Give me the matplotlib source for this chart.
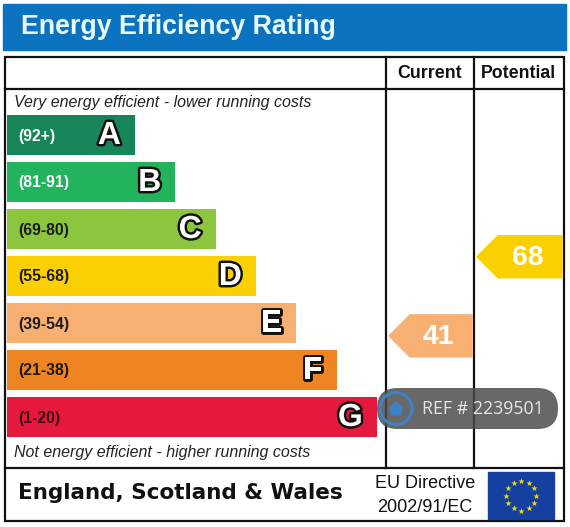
import numpy as np
import matplotlib
matplotlib.use('Agg')
import matplotlib.pyplot as plt
import matplotlib.patheffects as pe
from matplotlib.patches import Rectangle, Polygon, Circle, FancyBboxPatch

# ---- data ----
bands = ['A', 'B', 'C', 'D', 'E', 'F', 'G']
ranges = ['(92+)', '(81-91)', '(69-80)', '(55-68)', '(39-54)', '(21-38)', '(1-20)']
band_colors = ['#17855a', '#22b35c', '#8cc63f', '#fbd000', '#f7b071', '#ef8422', '#e5193d']
range_text_colors = ['white', 'white', '#1a1a1a', '#1a1a1a', '#1a1a1a', '#1a1a1a', '#3a0d14']
current = 41
potential = 68
ref_text = 'REF # 2239501'

fig = plt.figure(figsize=(5.7, 5.27), dpi=100)
ax = fig.add_axes([0, 0, 1, 1])
ax.set_xlim(0, 570)
ax.set_ylim(527, 0)
ax.axis('off')

sans = ['Liberation Sans', 'DejaVu Sans']

# title bar
ax.add_patch(Rectangle((3, 4), 563, 46, color='#0a72bf', zorder=1))
ax.text(21, 27, 'Energy Efficiency Rating', color='#e8fbff', fontsize=19.3,
        fontweight='bold', family=sans, va='center', ha='left')

# frame and grid lines
lk = dict(color='#111111', lw=1.6, zorder=3)
ax.add_patch(Rectangle((5, 57), 559, 464, fill=False, **lk))
ax.plot([5, 564], [89, 89], **lk)
ax.plot([5, 564], [468, 468], **lk)
ax.plot([386, 386], [57, 468], **lk)
ax.plot([474, 474], [57, 468], **lk)

ax.text(430, 73, 'Current', fontsize=12.8, fontweight='bold', family=sans,
        ha='center', va='center', color='#111111')
ax.text(518, 73, 'Potential', fontsize=12.8, fontweight='bold', family=sans,
        ha='center', va='center', color='#111111')

ax.text(14, 102, 'Very energy efficient - lower running costs', fontsize=11.5,
        style='italic', family=sans, ha='left', va='center', color='#222222')
ax.text(14, 452, 'Not energy efficient - higher running costs', fontsize=11.5,
        style='italic', family=sans, ha='left', va='center', color='#222222')

# rating bands
idx = np.arange(len(bands))
y_centers = 135 + 47 * idx
rights = 135 + 40.3 * idx
ax.barh(y_centers, rights - 7, left=7, height=40, color=band_colors, zorder=2)
outline = [pe.withStroke(linewidth=3.5, foreground='#111111')]
for i in idx:
    ax.text(18, y_centers[i] + 1, ranges[i], fontsize=11.3, fontweight='bold', family=sans,
            ha='left', va='center', color=range_text_colors[i], zorder=4)
    ax.text(rights[i] - 14, y_centers[i] + 1, bands[i], fontsize=23, fontweight='bold',
            family=sans, ha='right', va='center', color='white',
            path_effects=outline, zorder=4)


def band_of(v):
    lims = [92, 81, 69, 55, 39, 21, 1]
    for k, lo in enumerate(lims):
        if v >= lo:
            return k
    return len(lims) - 1


def arrow(x0, x1, yc, value):
    h = 42
    pts = [(x0, yc), (x0 + 21, yc - h / 2), (x1, yc - h / 2), (x1, yc + h / 2), (x0 + 21, yc + h / 2)]
    ax.add_patch(Polygon(pts, closed=True, color=band_colors[band_of(value)], zorder=4))
    ax.text((x0 + x1) / 2 + 8, yc + 1, str(value), fontsize=20.5, fontweight='bold',
            family=sans, ha='center', va='center', color='white', zorder=5)


# arrow vertical position follows the value
arrow(389, 472, 456 - 2.93 * current, current)
arrow(477, 562, 456 - 2.93 * potential, potential)

# footer
ax.text(18, 493, 'England, Scotland & Wales', fontsize=15.5, fontweight='bold',
        family='DejaVu Sans', ha='left', va='center', color='#111111')
ax.text(425, 483, 'EU Directive', fontsize=13, family=sans, ha='center', va='center',
        color='#111111')
ax.text(425, 507, '2002/91/EC', fontsize=13, family=sans, ha='center', va='center',
        color='#111111')
ax.add_patch(Rectangle((488, 472), 66, 47, color='#1540a0', zorder=3))
ang = np.linspace(0, 2 * np.pi, 13)[:-1]
ax.scatter(521 + 15 * np.cos(ang), 495.5 + 15 * np.sin(ang), marker='*', s=22,
           color='#f2e000', linewidths=0, zorder=4)

# reference watermark
ax.add_patch(FancyBboxPatch((377, 388), 181, 41, boxstyle='round,pad=0,rounding_size=20.5',
                            facecolor='#4d4d4d', edgecolor='none', alpha=0.85, zorder=6))
ax.add_patch(Circle((396, 408.5), 16, facecolor='none', edgecolor='#3d82c4', lw=2.2, zorder=7))
house = [(389, 409), (396, 402), (403, 409), (401, 409), (401, 415), (391, 415), (391, 409)]
ax.add_patch(Polygon(house, closed=True, color='#3d82c4', zorder=7))
ax.text(422, 409, ref_text, fontsize=12.8, family=['Open Sans', 'DejaVu Sans'],
        ha='left', va='center', color='#e6e6e6', zorder=8)

fig.savefig('out.png', dpi=100)
